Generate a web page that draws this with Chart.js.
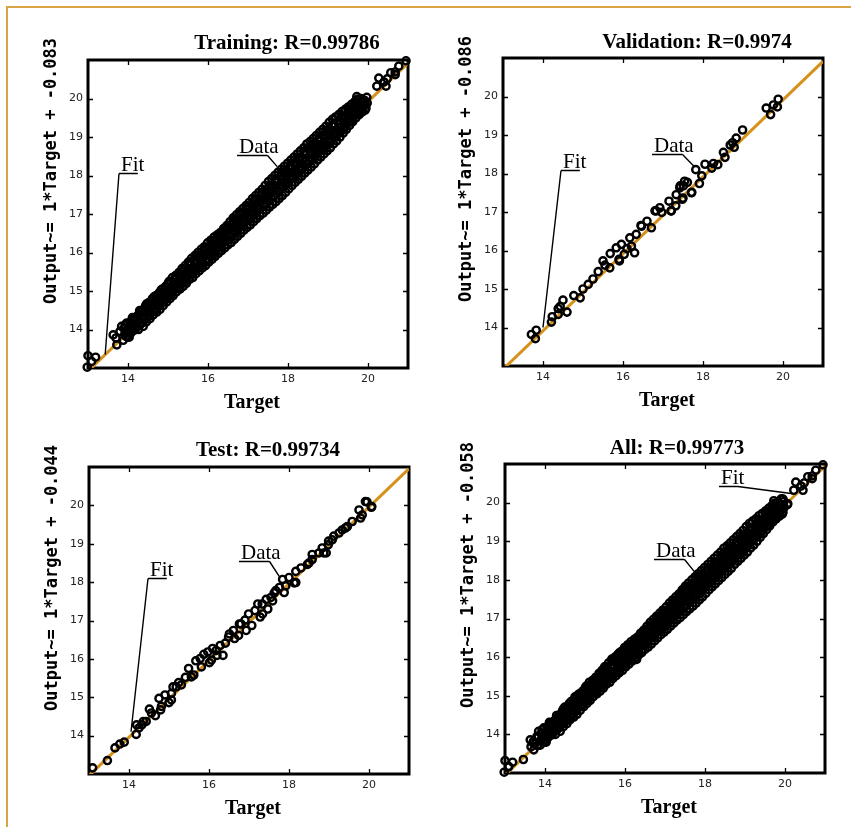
<!DOCTYPE html>
<html><head><meta charset="utf-8">
<script src="https://cdn.jsdelivr.net/npm/chart.js@4.4.1/dist/chart.umd.min.js"></script>
<style>
html,body{margin:0;padding:0;background:#fff;}
#page{position:relative;width:851px;height:827px;overflow:hidden;background:#fff;}
#frame{position:absolute;left:6px;top:6px;width:860px;height:840px;border-left:2px solid #D9A446;border-top:2px solid #D9A446;}
canvas{position:absolute;}
</style></head><body>
<div id="page"><div id="frame"></div>
<canvas id="c0" width="425" height="414" style="left:0px;top:0px"></canvas>
<canvas id="c1" width="426" height="414" style="left:425px;top:0px"></canvas>
<canvas id="c2" width="425" height="413" style="left:0px;top:414px"></canvas>
<canvas id="c3" width="426" height="413" style="left:425px;top:414px"></canvas>
</div>
<script>
// ---------- DATA ----------
const axisMin = 13, axisMax = 21;
const xTicks = [14, 16, 18, 20];
const yTicks = [14, 15, 16, 17, 18, 19, 20];
const titles = ['Training: R=0.99786', 'Validation: R=0.9974', 'Test: R=0.99734', 'All: R=0.99773'];
const yLabels = ['Output~= 1*Target + -0.083', 'Output~= 1*Target + -0.086', 'Output~= 1*Target + -0.044', 'Output~= 1*Target + -0.058'];
const xLabel = 'Target';
const calloutTexts = ['Fit', 'Data'];

// fit lines (Target, Output) endpoints
const trainFit = [[13, 12.917], [21, 20.917]];
const valFit = [[13, 12.914], [21, 20.914]];
const testFit = [[13, 12.956], [21, 20.956]];
const allFit = [[13, 12.942], [21, 20.942]];

// [Target, Output]
const trainData = [
[12.98,13.02],[13.00,13.32],[13.19,13.28],[13.09,13.17],
[13.63,13.86],[13.72,13.60],[13.70,13.78],[13.80,13.95],[13.84,14.08],[13.88,13.72],[13.92,13.88],[13.97,14.17],
[14.00,13.95],[14.03,13.80],[14.06,14.12],[14.10,14.25],[14.12,13.98],[14.16,14.05],[14.20,14.30],[14.22,14.12],
[14.26,14.00],[14.28,14.40],[14.32,14.18],[14.35,14.50],[14.38,14.08],[14.40,14.30],[14.44,14.62],[14.46,14.20],
[14.50,14.45],[14.52,14.70],[14.55,14.28],[14.58,14.55],[14.61,14.80],[14.63,14.38],[14.66,14.62],[14.70,14.88],
[14.72,14.45],[14.75,14.70],[14.78,14.95],[14.80,14.52],[14.83,14.78],[14.86,15.05],[14.88,14.62],[14.91,14.85],
[14.94,15.12],[14.97,14.72],[15.00,14.95],[15.03,15.25],[15.05,14.80],[15.08,15.05],[15.11,15.35],[15.13,14.88],
[15.16,15.12],[15.19,15.40],[15.21,14.98],[15.24,15.20],[15.27,15.48],[15.30,15.05],[15.32,15.30],[15.35,15.58],
[15.38,15.12],[15.40,15.38],[15.43,15.66],[15.46,15.20],[15.48,15.46],[15.51,15.75],[15.54,15.30],[15.56,15.55],
[15.59,15.85],[15.62,15.35],[15.64,15.62],[15.67,15.92],[15.70,15.45],[15.72,15.72],[15.75,16.00],[15.78,15.52],
[15.80,15.80],[15.83,16.08],[15.86,15.60],[15.88,15.88],[15.91,16.15],[15.94,15.66],[15.96,15.95],[15.99,16.25],
[16.02,15.75],[16.04,16.03],[16.07,16.32],[16.10,15.82],[16.12,16.10],[16.15,16.40],[16.18,15.90],[16.20,16.18],
[16.23,16.46],[16.26,15.98],[16.28,16.25],[16.31,16.52],[16.34,16.05],[16.36,16.32],[16.39,16.62],[16.42,16.12],
[16.44,16.40],[16.47,16.70],[16.50,16.20],[16.52,16.48],[16.55,16.80],[16.58,16.26],[16.60,16.56],[16.63,16.90],
[16.66,16.34],[16.68,16.64],[16.71,16.98],[16.74,16.42],[16.76,16.72],[16.79,17.06],[16.82,16.50],[16.84,16.80],
[16.87,17.14],[16.90,16.58],[16.92,16.88],[16.95,17.22],[16.98,16.65],[17.00,16.96],[17.03,17.30],[17.06,16.72],
[17.08,17.04],[17.11,17.40],[17.14,16.80],[17.16,17.12],[17.19,17.48],[17.22,16.88],[17.24,17.20],[17.27,17.56],
[17.30,16.96],[17.32,17.28],[17.35,17.64],[17.38,17.02],[17.40,17.36],[17.43,17.74],[17.46,17.10],[17.48,17.44],
[17.51,17.84],[17.54,17.18],[17.56,17.52],[17.59,17.92],[17.62,17.25],[17.64,17.60],[17.67,18.00],[17.70,17.32],
[17.72,17.66],[17.75,18.08],[17.78,17.40],[17.80,17.74],[17.83,18.16],[17.86,17.48],[17.88,17.82],[17.91,18.24],
[17.94,17.56],[17.96,17.90],[17.99,18.32],[18.02,17.65],[18.04,17.98],[18.07,18.40],[18.10,17.74],[18.12,18.06],
[18.15,18.48],[18.18,17.82],[18.20,18.14],[18.23,18.56],[18.26,17.90],[18.28,18.22],[18.31,18.64],[18.34,17.98],
[18.36,18.30],[18.39,18.72],[18.42,18.06],[18.44,18.38],[18.47,18.82],[18.50,18.14],[18.52,18.46],[18.55,18.88],
[18.58,18.22],[18.60,18.54],[18.63,18.96],[18.66,18.30],[18.68,18.62],[18.71,19.04],[18.74,18.40],[18.76,18.70],
[18.79,19.12],[18.82,18.48],[18.84,18.78],[18.87,19.20],[18.90,18.56],[18.92,18.86],[18.95,19.28],[18.98,18.64],
[19.00,18.94],[19.03,19.38],[19.06,18.72],[19.08,19.02],[19.11,19.46],[19.14,18.82],[19.16,19.10],[19.19,19.52],
[19.22,18.90],[19.24,19.18],[19.27,19.58],[19.30,19.00],[19.32,19.26],[19.35,19.66],[19.38,19.10],[19.40,19.34],
[19.43,19.72],[19.46,19.20],[19.48,19.42],[19.51,19.78],[19.54,19.30],[19.56,19.50],[19.59,19.85],[19.62,19.40],
[19.64,19.58],[19.67,19.92],[19.70,19.50],[19.72,19.66],[19.74,19.98],[19.78,19.58],[19.80,19.75],[19.82,20.00],
[19.86,19.65],[19.88,19.82],[19.92,19.95],[19.95,19.75],[19.98,19.88],[19.72,20.05],[19.97,20.03],[19.93,19.85],
[20.22,20.32],[20.27,20.53],[20.40,20.43],[20.45,20.32],[20.48,20.51],[20.57,20.67],[20.68,20.69],[20.68,20.62],
[20.77,20.84],[20.95,20.98],
[13.90,14.02],[13.95,13.82],[14.05,14.18],[14.08,13.92],[14.14,14.26],[14.18,14.00],[14.24,14.36],[14.30,14.12],
[14.36,14.48],[14.42,14.25],[14.48,14.60],[14.54,14.38],[14.60,14.72],[14.65,14.48],[14.72,14.84],[14.77,14.60],
[14.84,14.96],[14.89,14.72],[14.95,15.07],[15.02,14.86],[15.07,15.20],[15.12,14.98],[15.18,15.30],[15.25,15.10],
[15.30,15.44],[15.36,15.22],[15.42,15.55],[15.48,15.33],[15.54,15.68],[15.60,15.46],[15.66,15.80],[15.72,15.58],
[15.78,15.92],[15.84,15.70],[15.90,16.04],[15.96,15.82],[16.02,16.15],[16.08,15.94],[16.14,16.28],[16.20,16.05],
[16.26,16.40],[16.32,16.18],[16.38,16.52],[16.44,16.30],[16.50,16.64],[16.56,16.42],[16.62,16.76],[16.68,16.54],
[16.74,16.88],[16.80,16.66],[16.86,17.00],[16.92,16.78],[16.98,17.12],[17.04,16.90],[17.10,17.25],[17.16,17.00],
[17.22,17.36],[17.28,17.12],[17.34,17.50],[17.40,17.24],[17.46,17.62],[17.52,17.36],[17.58,17.74],[17.64,17.48],
[17.70,17.86],[17.76,17.58],[17.82,17.98],[17.88,17.70],[17.94,18.10],[18.00,17.82],[18.06,18.22],[18.12,17.94],
[18.18,18.34],[18.24,18.06],[18.30,18.46],[18.36,18.18],[18.42,18.58],[18.48,18.30],[18.54,18.70],[18.60,18.42],
[18.66,18.82],[18.72,18.54],[18.78,18.94],[18.84,18.66],[18.90,19.06],[18.96,18.78],[19.02,19.18],[19.08,18.90],
[19.14,19.30],[19.20,19.04],[19.26,19.42],[19.32,19.14],[19.38,19.54],[19.44,19.28],[19.50,19.64],[19.56,19.40],
[19.62,19.74],[19.68,19.56],[19.74,19.84],[19.80,19.66],[19.86,19.92],[19.90,19.80],
[13.93,14.12],[13.99,13.80],[14.05,14.10],[14.11,14.31],[14.17,13.99],[14.23,14.28],[14.29,14.49],[14.35,14.17],
[14.41,14.46],[14.47,14.67],[14.53,14.35],[14.59,14.64],[14.65,14.85],[14.71,14.53],[14.77,14.82],[14.83,15.03],
[14.89,14.71],[14.95,15.00],[15.01,15.21],[15.07,14.89],[15.13,15.18],[15.19,15.39],[15.25,15.07],[15.31,15.36],
[15.37,15.57],[15.43,15.25],[15.49,15.54],[15.55,15.75],[15.61,15.43],[15.67,15.72],[15.73,15.93],[15.79,15.61],
[15.85,15.90],[15.91,16.11],[15.97,15.79],[16.03,16.08],[16.09,16.29],[16.15,15.97],[16.21,16.26],[16.27,16.47],
[16.33,16.15],[16.39,16.44],[16.45,16.65],[16.51,16.33],[16.57,16.62],[16.63,16.83],[16.69,16.51],[16.75,16.80],
[16.81,17.01],[16.87,16.69],[16.93,16.98],[16.99,17.19],[17.05,16.87],[17.11,17.16],[17.17,17.37],[17.23,17.05],
[17.29,17.34],[17.35,17.55],[17.41,17.23],[17.47,17.52],[17.53,17.73],[17.59,17.41],[17.65,17.70],[17.71,17.91],
[17.77,17.59],[17.83,17.88],[17.89,18.09],[17.95,17.77],[18.01,18.06],[18.07,18.27],[18.13,17.95],[18.19,18.24],
[18.25,18.45],[18.31,18.13],[18.37,18.42],[18.43,18.63],[18.49,18.31],[18.55,18.60],[18.61,18.81],[18.67,18.49],
[18.73,18.78],[18.79,18.99],[18.85,18.67],[18.91,18.96],[18.97,19.17],[19.03,18.85],[19.09,19.14],[19.15,19.35],
[19.21,19.03],[19.27,19.32],[19.33,19.53],[19.39,19.21],[19.45,19.50],[19.51,19.71],[19.57,19.39],[19.63,19.68],
[19.69,19.86],[19.75,19.60],[19.81,19.82],[19.87,19.97],[19.93,19.70]
];

const valData = [
[13.71,13.82],[13.83,13.93],[13.81,13.71],[14.21,14.14],[14.23,14.28],[14.38,14.49],[14.43,14.55],[14.50,14.71],
[14.60,14.40],[14.38,14.34],[14.77,14.83],[14.93,14.77],[15.00,15.00],[15.13,15.12],[15.25,15.26],[15.38,15.45],
[15.50,15.73],[15.55,15.62],[15.67,15.55],[15.68,15.92],[15.83,16.07],[15.96,16.16],[15.90,15.77],[15.91,15.73],
[16.03,15.90],[16.10,16.05],[16.17,16.33],[16.21,16.11],[16.29,15.94],[16.33,16.42],[16.46,16.63],[16.45,16.65],
[16.60,16.76],[16.71,16.59],[16.80,17.03],[16.83,17.03],[16.92,17.11],[16.97,16.99],[17.15,17.28],[17.21,17.03],
[17.20,17.03],[17.32,17.16],[17.33,17.45],[17.43,17.68],[17.48,17.33],[17.50,17.36],[17.42,17.63],[17.54,17.80],
[17.51,17.68],[17.61,17.77],[17.71,17.50],[17.72,17.51],[17.82,18.10],[17.91,17.74],[17.97,17.94],[18.05,18.24],
[18.22,18.14],[18.26,18.26],[18.37,18.23],[18.51,18.55],[18.55,18.42],[18.68,18.74],[18.74,18.80],[18.78,18.68],
[18.83,18.92],[18.99,19.13],[19.58,19.70],[19.69,19.53],[19.76,19.78],[19.86,19.73],[19.88,19.93]
];

const testData = [
[13.09,13.16],[13.46,13.35],[13.65,13.68],[13.77,13.78],[13.88,13.83],[14.18,14.03],[14.19,14.28],[14.25,14.20],
[14.32,14.28],[14.36,14.37],[14.43,14.37],[14.51,14.69],[14.56,14.59],[14.66,14.52],[14.79,14.67],[14.81,14.76],
[14.75,14.97],[14.90,15.06],[15.00,14.86],[15.06,15.10],[15.06,14.93],[15.10,15.27],[15.18,15.27],[15.24,15.38],
[15.31,15.32],[15.41,15.52],[15.49,15.75],[15.56,15.53],[15.62,15.58],[15.67,15.95],[15.78,16.01],[15.81,15.79],
[15.87,16.12],[15.97,16.18],[16.01,15.90],[16.06,15.97],[16.09,16.27],[16.18,16.22],[16.20,16.09],[16.28,16.35],
[16.35,16.09],[16.41,16.41],[16.49,16.57],[16.51,16.65],[16.61,16.74],[16.64,16.53],[16.74,16.61],[16.76,16.91],
[16.80,16.91],[16.90,17.01],[16.93,16.74],[16.99,17.17],[17.07,16.87],[17.15,17.26],[17.22,17.43],[17.28,17.09],
[17.33,17.43],[17.34,17.17],[17.43,17.55],[17.47,17.30],[17.55,17.60],[17.59,17.51],[17.63,17.72],[17.67,17.78],
[17.76,17.86],[17.84,18.07],[17.88,17.73],[17.92,17.90],[18.00,18.12],[18.13,17.98],[18.17,18.28],[18.17,17.99],
[18.30,18.37],[18.46,18.46],[18.50,18.50],[18.58,18.59],[18.58,18.72],[18.75,18.76],[18.83,18.89],[18.87,18.76],
[18.93,18.76],[18.98,18.97],[18.99,19.07],[19.08,19.10],[19.12,19.20],[19.25,19.28],[19.33,19.36],[19.41,19.41],
[19.46,19.45],[19.58,19.58],[19.75,19.88],[19.79,19.67],[19.83,19.75],[19.91,20.10],[19.95,20.09],[20.06,19.95],
[20.07,19.97]
];

// ---------- LAYOUT ----------
const panels = [
  {canvas:'c0', data:trainData, fit:trainFit, padTop:60, padRight:17, yw:88, xh:46, titleDx:199, titleDy:-11,
   callouts:[{dx:33, dy:111, ax:13.43, ay:13.35}, {dx:151, dy:93, ax:17.73, ay:18.23}]},
  {canvas:'c1', data:valData, fit:valFit, padTop:58, padRight:28, yw:78, xh:48, titleDx:194, titleDy:-10,
   callouts:[{dx:60, dy:110, ax:14.0, ay:14.0}, {dx:151, dy:94, ax:17.78, ay:18.18}]},
  {canvas:'c2', data:testData, fit:testFit, padTop:53, padRight:16, yw:89, xh:53, titleDx:179, titleDy:-11,
   callouts:[{dx:61, dy:109, ax:14.05, ay:14.1}, {dx:152, dy:92, ax:17.78, ay:18.11}]},
  {canvas:'c3', data:trainData.concat(valData, testData), fit:allFit, padTop:50, padRight:26, yw:80, xh:54, titleDx:172, titleDy:-10,
   callouts:[{dx:216, dy:20, ax:20.2, ay:20.23}, {dx:151, dy:93, ax:17.8, ay:18.13}]}
];

const FIT_COLOR = '#D4921C';
const tickFont = {family:'"DejaVu Sans"', size:11};

function decoPlugin(p, idx){
  return {
    id:'deco'+idx,
    beforeDatasetsDraw(chart){
      const {ctx, chartArea:a, scales:{x, y}} = chart;
      ctx.save();
      ctx.strokeStyle = '#000';
      ctx.lineWidth = 1.3;
      ctx.beginPath();
      xTicks.forEach(v => {
        const px = Math.round(x.getPixelForValue(v)) + 0.5;
        ctx.moveTo(px, a.bottom); ctx.lineTo(px, a.bottom - 5);
        ctx.moveTo(px, a.top); ctx.lineTo(px, a.top + 5);
      });
      yTicks.forEach(v => {
        const py = Math.round(y.getPixelForValue(v)) + 0.5;
        ctx.moveTo(a.left, py); ctx.lineTo(a.left + 5, py);
        ctx.moveTo(a.right, py); ctx.lineTo(a.right - 5, py);
      });
      ctx.stroke();
      ctx.lineWidth = 3;
      ctx.strokeRect(a.left, a.top, a.right - a.left, a.bottom - a.top);
      ctx.restore();
    },
    afterDraw(chart){
      const {ctx, chartArea:a, scales:{x, y}} = chart;
      ctx.save();
      ctx.fillStyle = '#000';
      ctx.font = 'bold 21px "Liberation Serif"';
      ctx.textAlign = 'center'; ctx.textBaseline = 'alphabetic';
      ctx.fillText(titles[idx], a.left + p.titleDx, a.top + p.titleDy);
      ctx.font = 'bold 20px "Liberation Serif"';
      ctx.fillText(xLabel, (a.left + a.right) / 2 + 4, a.bottom + 40);
      ctx.save();
      ctx.translate(a.left - 36, a.top + 111);
      ctx.rotate(-Math.PI / 2);
      ctx.font = 'bold 17px "DejaVu Sans Mono"';
      ctx.textAlign = 'center'; ctx.textBaseline = 'middle';
      ctx.fillText(yLabels[idx], 0, 0);
      ctx.restore();
      ctx.font = '21px "Liberation Serif"';
      ctx.textAlign = 'left'; ctx.textBaseline = 'alphabetic';
      ctx.strokeStyle = '#000'; ctx.lineWidth = 1.4;
      p.callouts.forEach((c, k) => {
        const tx = a.left + c.dx, ty = a.top + c.dy;
        const txt = calloutTexts[k];
        ctx.fillText(txt, tx, ty);
        const w = ctx.measureText(txt).width;
        const uy = ty + 2.5, u0 = tx - 2, u1 = tx + w * 0.72;
        const ax = x.getPixelForValue(c.ax), ay = y.getPixelForValue(c.ay);
        const sx = ax < tx ? u0 : u1;
        ctx.beginPath();
        ctx.moveTo(u0, uy); ctx.lineTo(u1, uy);
        ctx.moveTo(sx, uy); ctx.lineTo(ax, ay);
        ctx.stroke();
      });
      ctx.restore();
    }
  };
}

panels.forEach((p, idx) => {
  new Chart(document.getElementById(p.canvas), {
    data: {
      datasets: [
        {type:'scatter', data:p.data.map(([tx, ty]) => ({x:tx, y:ty})),
         pointRadius:3.6, pointBorderWidth:2.4, borderColor:'#000', pointBorderColor:'#000',
         backgroundColor:'rgba(0,0,0,0)', pointBackgroundColor:'rgba(0,0,0,0)', clip:false, order:0},
        {type:'line', data:p.fit.map(([tx, ty]) => ({x:tx, y:ty})),
         borderColor:FIT_COLOR, borderWidth:3, pointRadius:0, fill:false, order:1}
      ]
    },
    options: {
      responsive:false, animation:false, devicePixelRatio:1, events:[],
      layout:{padding:{left:0, top:p.padTop, right:p.padRight, bottom:0}, autoPadding:false},
      plugins:{legend:{display:false}, tooltip:{enabled:false}, title:{display:false}},
      scales:{
        x:{type:'linear', position:'bottom', min:axisMin, max:axisMax,
           grid:{display:false, drawTicks:false}, border:{display:false},
           ticks:{font:tickFont, color:'#222', padding:5, maxRotation:0},
           afterBuildTicks(s){ s.ticks = xTicks.map(v => ({value:v})); },
           afterFit(s){ s.height = p.xh; }},
        y:{type:'linear', position:'left', min:axisMin, max:axisMax,
           grid:{display:false, drawTicks:false}, border:{display:false},
           ticks:{font:tickFont, color:'#222', padding:5},
           afterBuildTicks(s){ s.ticks = yTicks.map(v => ({value:v})); },
           afterFit(s){ s.width = p.yw; }}
      }
    },
    plugins:[decoPlugin(p, idx)]
  });
});
</script>
</body></html>
